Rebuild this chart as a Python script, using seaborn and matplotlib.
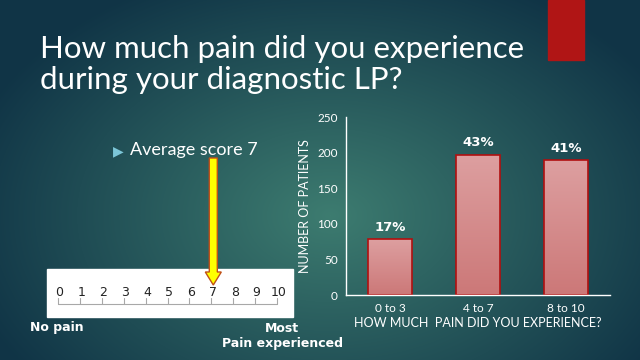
import matplotlib
matplotlib.use("Agg")
import matplotlib.pyplot as plt
from matplotlib.patches import Rectangle, FancyArrow
import seaborn as sns
import numpy as np
import pandas as pd

# data
categories = ["0 to 3", "4 to 7", "8 to 10"]
patients = [78, 197, 189]
percent_labels = ["17%", "43%", "41%"]
y_ticks = [0, 50, 100, 150, 200, 250]
scale_labels = [str(i) for i in range(11)]
average_score = 7

sns.set_style("white")
plt.rcParams["font.family"] = ["Lato", "DejaVu Sans"]

fig = plt.figure(figsize=(6.4, 3.6), dpi=100)

# slide background: radial teal gradient
bg = fig.add_axes([0, 0, 1, 1])
yy, xx = np.mgrid[0:360, 0:640]
d = np.sqrt(((xx - 330) / 380.0) ** 2 + ((yy - 215) / 260.0) ** 2)
t = np.clip(d, 0, 1)[..., None]
inner = np.array([0x3d, 0x7c, 0x70]) / 255
outer = np.array([0x10, 0x34, 0x46]) / 255
img = inner * (1 - t) + outer * t
bg.imshow(img, extent=[0, 640, 360, 0], aspect="auto", zorder=0)
bg.set_xlim(0, 640)
bg.set_ylim(360, 0)
bg.axis("off")

# red accent block
bg.add_patch(Rectangle((548, 0), 36, 60, color="#b01515", zorder=2))

# title
bg.text(40, 58, "How much pain did you experience", color="white",
        fontsize=22.5, va="baseline", zorder=3)
bg.text(40, 89, "during your diagnostic LP?", color="white",
        fontsize=22.5, va="baseline", zorder=3)

# bullet
bg.text(113, 151, "\u25B6", color="#7cc6d8", fontsize=10, va="center",
        family=["DejaVu Sans"], zorder=3)
bg.text(130, 150, "Average score 7", color="white", fontsize=13, va="center", zorder=3)

# pain scale box
bg.add_patch(Rectangle((47, 269), 246, 48, color="white", zorder=2))
x0, x1 = 58, 277
step = (x1 - x0) / 10
bg.plot([x0, x1], [304, 304], color="#a8a8a8", lw=0.8, zorder=3)
for i, lab in enumerate(scale_labels):
    xi = x0 + i * step
    bg.plot([xi, xi], [298, 304], color="#a8a8a8", lw=0.8, zorder=3)
    bg.text(xi + 1.5, 292, lab, color="#222222", fontsize=9, ha="center",
            va="center", family=["DejaVu Sans"], zorder=3)

# yellow arrow to average score
arrow_x = x0 + average_score * step + 2
bg.add_patch(FancyArrow(arrow_x, 158, 0, 127, width=8, head_width=16, head_length=13,
                        length_includes_head=True, fc="#ffff00", ec="#c05018",
                        lw=1, zorder=4))

bg.text(30, 328, "No pain", color="white", fontsize=9, fontweight="bold",
        va="center", family=["DejaVu Sans"], zorder=3)
bg.text(282, 328, "Most", color="white", fontsize=9, fontweight="bold",
        va="center", ha="center", family=["DejaVu Sans"], zorder=3)
bg.text(282, 344, "Pain experienced", color="white", fontsize=9, fontweight="bold",
        va="center", ha="center", family=["DejaVu Sans"], zorder=3)

# bar chart
ax = fig.add_axes([346 / 640, 1 - 295 / 360, 264 / 640, 178 / 360])
ax.set_facecolor("none")
df = pd.DataFrame({"pain": categories, "patients": patients})
sns.barplot(data=df, x="pain", y="patients", ax=ax, color="#d68c8c",
            edgecolor="#b01010", linewidth=1.2, width=0.5, saturation=1)

# vertical pink gradient inside each bar
grad = np.linspace(0, 1, 100)[:, None, None]
top_c = np.array([0xdd, 0x9f, 0xa0]) / 255
bot_c = np.array([0xcc, 0x78, 0x78]) / 255
bar_img = top_c * (1 - grad) + bot_c * grad
for p in ax.patches:
    x, w, h = p.get_x(), p.get_width(), p.get_height()
    im = ax.imshow(bar_img, extent=[x, x + w, 0, h], aspect="auto", zorder=p.get_zorder() - 0.1)
    im.set_clip_path(p)
    p.set_facecolor("none")
ax.set_xlim(-0.5, 2.5)
ax.set_ylim(0, 250)
ax.set_yticks(y_ticks)

for i, (v, lab) in enumerate(zip(patients, percent_labels)):
    ax.text(i, v + 8, lab, color="white", fontsize=9.5, fontweight="bold",
            ha="center", va="bottom", family=["DejaVu Sans"])

for s in ["top", "right"]:
    ax.spines[s].set_visible(False)
for s in ["left", "bottom"]:
    ax.spines[s].set_color("white")
    ax.spines[s].set_linewidth(1)
ax.tick_params(colors="white", labelsize=8.5, length=0, pad=6)
ax.set_ylabel("NUMBER OF PATIENTS", color="white", fontsize=9, labelpad=4)
ax.set_xlabel("HOW MUCH  PAIN DID YOU EXPERIENCE?", color="white", fontsize=9, labelpad=2)

plt.savefig("out.png", dpi=100)
plt.close()
